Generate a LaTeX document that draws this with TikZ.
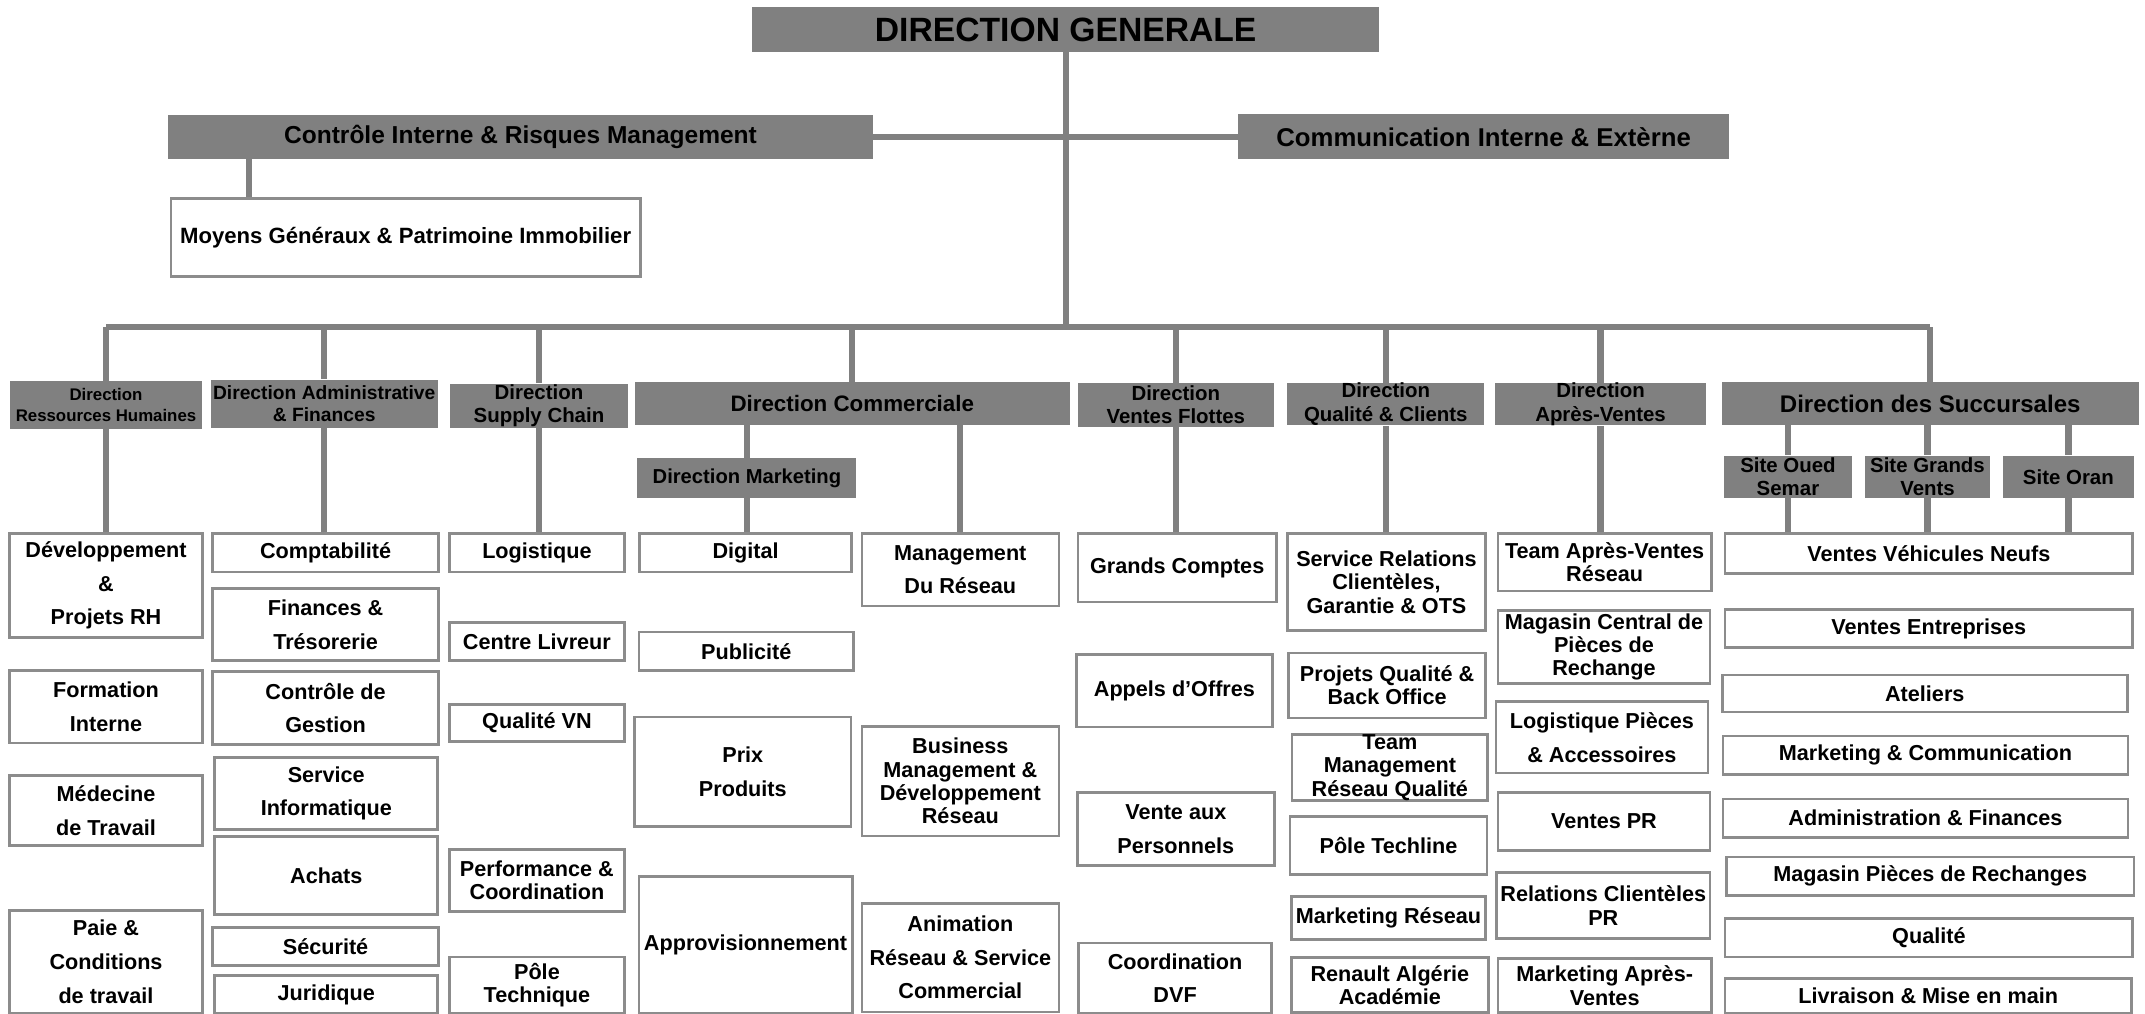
\documentclass[tikz,border=0pt]{standalone}
\usepackage{fontspec}
\setmainfont{Liberation Sans}
\usepackage{tikz}
\definecolor{hdgray}{HTML}{808080}
\definecolor{bxgray}{HTML}{8C8C8C}
\definecolor{lkgray}{HTML}{808080}

\begin{document}
\begin{tikzpicture}[x=0.2mm,y=-0.2mm,
    sz/.style 2 args={minimum width=#1*0.2mm,minimum height=#2*0.2mm},
    hd/.style={fill=hdgray,inner sep=0pt,align=center,font=\fontsize{8.5}{9.7}\selectfont\bfseries},
    box/.style={draw=bxgray,line width=1.1pt,fill=white,inner sep=0pt,align=center,font=\fontsize{9}{14}\selectfont\bfseries},
    tight/.style={font=\fontsize{9}{9.7}\selectfont\bfseries},
    link/.style={draw=lkgray,line width=2.6pt}]
  \useasboundingbox (0,0) rectangle (1568,741);

  % haut
  \node[hd,sz={458}{33},font=\fontsize{14}{16}\selectfont\bfseries] (dg) at (779,21.5) {DIRECTION GENERALE};
  \node[hd,sz={515}{32},font=\fontsize{10.2}{12}\selectfont\bfseries] (cirm) at (380.5,100) {Contrôle Interne \& Risques Management};
  \node[hd,sz={359}{33},font=\fontsize{10.7}{12}\selectfont\bfseries] (cie) at (1084.5,100) {Communication Interne \& Extèrne};
  \node[box,sz={343}{57},font=\fontsize{9.2}{12}\selectfont\bfseries] (mgpi) at (296.5,173.5) {Moyens Généraux \& Patrimoine Immobilier};
  \coordinate (bus) at (780,239);
  \coordinate (cimx) at (182,0);

  % directions
  \node[hd,sz={141}{35},font=\fontsize{7}{9}\selectfont\bfseries] (drh) at (77.5,296) {Direction\\Ressources Humaines};
  \node[hd,sz={166}{35},font=\fontsize{8}{9.5}\selectfont\bfseries] (daf) at (237,295) {Direction Administrative\\\& Finances};
  \node[hd,sz={130}{32}] (dsc) at (394,296.5) {Direction\\Supply Chain};
  \node[hd,sz={318}{31},font=\fontsize{9.3}{11}\selectfont\bfseries] (dcom) at (623,295) {Direction Commerciale};
  \node[hd,sz={160}{29},font=\fontsize{8.4}{10}\selectfont\bfseries] (dmkt) at (546,349.5) {Direction Marketing};
  \node[hd,sz={143}{32}] (dvf) at (859.5,296) {Direction\\Ventes Flottes};
  \node[hd,sz={144}{31}] (dqc) at (1013,295.5) {Direction\\Qualité \& Clients};
  \node[hd,sz={154}{31}] (dav) at (1170,295.5) {Direction\\Après-Ventes};
  \node[hd,sz={305}{31},font=\fontsize{10}{12}\selectfont\bfseries] (dsuc) at (1411,295) {Direction des Succursales};
  \node[hd,sz={93}{31}] (sos) at (1307,348.5) {Site Oued\\Semar};
  \node[hd,sz={92}{31}] (sgv) at (1409,348.5) {Site Grands\\Vents};
  \node[hd,sz={96}{31}] (sor) at (1512,348.5) {Site Oran};

  % ressources humaines
  \node[box,sz={141}{76}] (rh1) at (77.5,428) {Développement\\\&\\Projets RH};
  \node[box,sz={141}{53}] (rh2) at (77.5,516.5) {Formation\\Interne};
  \node[box,sz={141}{51}] (rh3) at (77.5,592.5) {Médecine\\de Travail};
  \node[box,sz={141}{75}] (rh4) at (77.5,703) {Paie \&\\Conditions\\de travail};

  % administration & finances
  \node[box,sz={165}{28}] (af1) at (238,404) {Comptabilité};
  \node[box,sz={165}{53}] (af2) at (238,456.5) {Finances \&\\Trésorerie};
  \node[box,sz={165}{53}] (af3) at (238,517.5) {Contrôle de\\Gestion};
  \node[box,sz={163}{52.5}] (af4) at (238.5,580) {Service\\Informatique};
  \node[box,sz={163}{57}] (af5) at (238.5,640) {Achats};
  \node[box,sz={165}{28}] (af6) at (238,692) {Sécurité};
  \node[box,sz={163}{27.5}] (af7) at (238.5,727) {Juridique};

  % supply chain
  \node[box,sz={128}{28}] (sc1) at (392.5,404) {Logistique};
  \node[box,sz={128}{28}] (sc2) at (392.5,469) {Centre Livreur};
  \node[box,sz={128}{27}] (sc3) at (392.5,528.5) {Qualité VN};
  \node[box,tight,sz={128}{45.5}] (sc4) at (392.5,643.7) {Performance \&\\Coordination};
  \node[box,tight,sz={128}{41}] (sc5) at (392.5,720) {Pôle\\Technique};

  % commerciale
  \node[box,sz={155}{28}] (mk1) at (545,404) {Digital};
  \node[box,sz={157}{28}] (mk2) at (545.5,476) {Publicité};
  \node[box,sz={158}{80}] (mk3) at (543,564) {Prix\\Produits};
  \node[box,sz={156}{100}] (mk4) at (545,690.5) {Approvisionnement};
  \node[box,sz={144}{53}] (rn1) at (702,416.5) {Management\\Du Réseau};
  \node[box,tight,sz={144}{80}] (rn2) at (702,571) {Business\\Management \&\\Développement\\Réseau};
  \node[box,sz={144}{79.5}] (rn3) at (702,700) {Animation\\Réseau \& Service\\Commercial};

  % ventes flottes
  \node[box,sz={145}{50}] (vf1) at (860.5,415) {Grands Comptes};
  \node[box,sz={143}{53}] (vf2) at (858.5,505) {Appels d'Offres};
  \node[box,sz={144}{53}] (vf3) at (859.5,606) {Vente aux\\Personnels};
  \node[box,sz={141}{51.5}] (vf4) at (859,715) {Coordination\\DVF};

  % qualite & clients
  \node[box,tight,sz={145}{71}] (qc1) at (1013.5,425.5) {Service Relations\\Clientèles,\\Garantie \& OTS};
  \node[box,tight,sz={144}{47.5}] (qc2) at (1014,501) {Projets Qualité \&\\Back Office};
  \node[box,tight,sz={143}{48.5}] (qc3) at (1016,561) {Team\\Management\\Réseau Qualité};
  \node[box,sz={144}{42.5}] (qc4) at (1015,618) {Pôle Techline};
  \node[box,sz={142}{31.5}] (qc5) at (1015,671) {Marketing Réseau};
  \node[box,tight,sz={144}{40.5}] (qc6) at (1016,720) {Renault Algérie\\Académie};

  % apres-ventes
  \node[box,tight,sz={156}{42}] (av1) at (1173,411) {Team Après-Ventes\\Réseau};
  \node[box,tight,sz={155}{53.5}] (av2) at (1172.5,473) {Magasin Central de\\Pièces de\\Rechange};
  \node[box,sz={155}{52}] (av3) at (1171,539) {Logistique Pièces\\\& Accessoires};
  \node[box,sz={155}{42}] (av4) at (1172.5,600.5) {Ventes PR};
  \node[box,tight,sz={156}{48.5}] (av5) at (1172,662) {Relations Clientèles\\PR};
  \node[box,tight,sz={156}{39.5}] (av6) at (1173,720.5) {Marketing Après-\\Ventes};

  % succursales
  \node[box,sz={298}{29}] (su1) at (1410,404.5) {Ventes Véhicules Neufs};
  \node[box,sz={298}{28}] (su2) at (1410,459.5) {Ventes Entreprises};
  \node[box,sz={296}{27}] (su3) at (1407,507) {Ateliers};
  \node[box,sz={296}{28}] (su4) at (1407.5,552) {Marketing \& Communication};
  \node[box,sz={296}{28}] (su5) at (1407.5,598) {Administration \& Finances};
  \node[box,sz={298}{28}] (su6) at (1411,640.5) {Magasin Pièces de Rechanges};
  \node[box,sz={298}{28}] (su7) at (1410,685.5) {Qualité};
  \node[box,sz={297}{25}] (su8) at (1409.5,728) {Livraison \& Mise en main};

  % liaisons
  \draw[link] (dg.south) -- (dg.south |- bus);
  \draw[link] (cirm.east) -- (cie.west);
  \draw[link] (cirm.south -| cimx) -- (mgpi.north -| cimx);
  \draw[link] (drh.north |- bus) -- (dsuc.north |- bus);
  \foreach \d in {drh,daf,dsc,dcom,dvf,dqc,dav,dsuc}
    \draw[link] (\d.north) -- (\d.north |- bus);
  \draw[link] (drh.south) -- (drh.south |- rh1.north);
  \draw[link] (daf.south) -- (daf.south |- af1.north);
  \draw[link] (dsc.south) -- (dsc.south |- sc1.north);
  \draw[link] (dmkt.north |- dcom.south) -- (dmkt.north);
  \draw[link] (dmkt.south) -- (dmkt.south |- mk1.north);
  \draw[link] (rn1.north |- dcom.south) -- (rn1.north);
  \draw[link] (dvf.south) -- (dvf.south |- vf1.north);
  \draw[link] (dqc.south) -- (dqc.south |- qc1.north);
  \draw[link] (dav.south) -- (dav.south |- av1.north);
  \foreach \s in {sos,sgv,sor} {
    \draw[link] (\s.north |- dsuc.south) -- (\s.north);
    \draw[link] (\s.south) -- (\s.south |- su1.north);
  }
\end{tikzpicture}
\end{document}
